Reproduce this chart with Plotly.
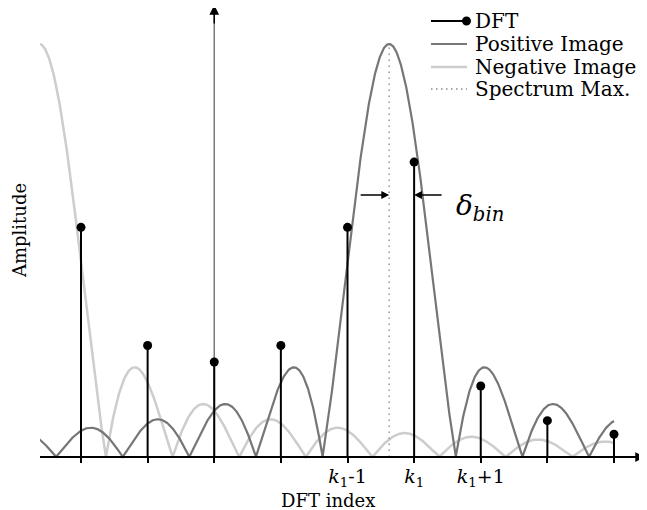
import numpy as np
import plotly.graph_objects as go

# ---- data ----
dft_index = [-2, -1, 0, 1, 2, 3, 4, 5, 6]
dft_amplitude = [0.556, 0.270, 0.230, 0.270, 0.556, 0.714, 0.172, 0.088, 0.055]
k1 = 3
positive_center = 2.625      # spectrum maximum (positive image)
negative_center = -2.625     # mirrored (negative image)
image_peak = 1.0
curve_start, curve_end = -2.625, 6.0
tick_values = [-2, -1, 0, 1, 2, 3, 4, 5, 6]
label_values = [2, 3, 4]
tick_labels = ["<i>k</i><sub>1</sub>-1", "<i>k</i><sub>1</sub>", "<i>k</i><sub>1</sub>+1"]
legend_names = ["DFT", "Positive Image", "Negative Image", "Spectrum Max."]

FONT = "DejaVu Serif"
DARK = "#767676"
LIGHT = "#cdcdcd"
DOT = "#8a8a8a"

# the page body has an 8px margin: figure is placed at (8, 8)
OFF = 8
W, H = 647 - OFF, 510 - OFF
px_per_bin = 66.625
x0_px = 214.25          # reference pixel of index 0
base_px = 457           # reference pixel of amplitude 0
unit_px = 413           # pixels per unit amplitude
xmin = (40 - x0_px) / px_per_bin
xmax = (645 - x0_px) / px_per_bin
ymin = (base_px - 510) / unit_px
ymax = (base_px - OFF) / unit_px


def px(xr):
    return (xr - OFF) / W


def py(yr):
    return 1 - (yr - OFF) / H


xs = np.linspace(curve_start, curve_end, 1200)
pos_img = image_peak * np.abs(np.sinc(xs - positive_center))
neg_img = image_peak * np.abs(np.sinc(xs - negative_center))

fig = go.Figure()

# y axis line (gray)
fig.add_shape(type="line", x0=0, x1=0, y0=0, y1=(base_px - 12) / unit_px,
              line=dict(color="#7a7a7a", width=1.5), layer="below")

fig.add_trace(go.Scatter(x=xs, y=neg_img, mode="lines", name="Negative Image",
                         line=dict(color=LIGHT, width=2.5), showlegend=False))
fig.add_trace(go.Scatter(x=xs, y=pos_img, mode="lines", name="Positive Image",
                         line=dict(color=DARK, width=2.2), showlegend=False))
fig.add_trace(go.Scatter(x=[positive_center, positive_center], y=[0, image_peak],
                         mode="lines", name="Spectrum Max.", showlegend=False,
                         line=dict(color=DOT, width=1.3, dash="1.5px,4.5px")))

stem_x, stem_y = [], []
for k, v in zip(dft_index, dft_amplitude):
    stem_x += [k, k, None]
    stem_y += [0, v, None]
fig.add_trace(go.Scatter(x=stem_x, y=stem_y, mode="lines", showlegend=False,
                         line=dict(color="black", width=2)))
fig.add_trace(go.Scatter(x=dft_index, y=dft_amplitude, mode="markers", showlegend=False,
                         name="DFT", marker=dict(color="black", size=9)))

annotations = []
shapes = []
# axis arrowheads
annotations.append(dict(x=xmax, y=0, ax=xmax - 0.3, ay=0, xref="x", yref="y",
                        axref="x", ayref="y", text="", showarrow=True,
                        arrowhead=2, arrowsize=1.3, arrowwidth=1.5, arrowcolor="black"))
annotations.append(dict(x=0, y=(base_px - 5) / unit_px, ax=0, ay=(base_px - 25) / unit_px,
                        xref="x", yref="y", axref="x", ayref="y", text="", showarrow=True,
                        arrowhead=2, arrowsize=1.3, arrowwidth=1.5, arrowcolor="black"))
# delta_bin arrows
y_arrow = (base_px - 195) / unit_px
annotations.append(dict(x=positive_center, y=y_arrow, ax=positive_center - 30 / px_per_bin,
                        ay=y_arrow, xref="x", yref="y", axref="x", ayref="y", text="",
                        showarrow=True, arrowhead=2, arrowsize=1.2, arrowwidth=1.3,
                        arrowcolor="black"))
annotations.append(dict(x=k1, y=y_arrow, ax=k1 + 29 / px_per_bin, ay=y_arrow,
                        xref="x", yref="y", axref="x", ayref="y", text="",
                        showarrow=True, arrowhead=2, arrowsize=1.2, arrowwidth=1.3,
                        arrowcolor="black"))
annotations.append(dict(x=k1 + 40 / px_per_bin, y=(base_px - 207) / unit_px,
                        xref="x", yref="y", xanchor="left", yanchor="middle",
                        text="<i>δ</i><sub><i>bin</i></sub>", showarrow=False,
                        font=dict(family=FONT, size=28, color="black")))
# axis titles
annotations.append(dict(x=px(328), y=py(500), xref="paper", yref="paper",
                        text="DFT index", showarrow=False, xanchor="center", yanchor="middle",
                        font=dict(family=FONT, size=18, color="black")))
annotations.append(dict(x=px(19), y=py(231), xref="paper", yref="paper",
                        text="Amplitude", showarrow=False, textangle=-90,
                        xanchor="center", yanchor="middle",
                        font=dict(family=FONT, size=18, color="black")))

# legend (drawn as a key box in the top right corner)
row_y = [21, 44, 67, 89]
legend_styles = [dict(color="black", width=2),
                 dict(color=DARK, width=2.2),
                 dict(color=LIGHT, width=2.5),
                 dict(color=DOT, width=1.5, dash="1.5px,3.5px")]
for name, yr, st in zip(legend_names, row_y, legend_styles):
    shapes.append(dict(type="line", xref="paper", yref="paper",
                       x0=px(431), x1=px(467), y0=py(yr), y1=py(yr), line=st))
    annotations.append(dict(x=px(473), y=py(yr), xref="paper", yref="paper",
                            text=name, showarrow=False, xanchor="left", yanchor="middle",
                            font=dict(family=FONT, size=20, color="black")))
shapes.append(dict(type="circle", xref="paper", yref="paper",
                   x0=px(462), x1=px(471), y0=py(row_y[0] - 4.5), y1=py(row_y[0] + 4.5),
                   fillcolor="black", line=dict(width=0)))

fig.update_layout(
    width=W, height=H,
    margin=dict(l=0, r=0, t=0, b=0),
    plot_bgcolor="white", paper_bgcolor="white",
    showlegend=False,
    annotations=annotations,
    shapes=fig.layout.shapes + tuple(shapes),
    xaxis=dict(domain=[px(40), px(645)], range=[xmin, xmax],
               anchor="free", position=py(base_px),
               showline=True, linecolor="black", linewidth=1.5,
               ticks="outside", ticklen=5, tickwidth=1.5, tickcolor="black",
               tickmode="array", tickvals=label_values, ticktext=tick_labels,
               ticklabelstandoff=-3,
               minor=dict(tickmode="array", tickvals=tick_values, ticks="outside",
                          ticklen=5, tickwidth=1.5, tickcolor="black", showgrid=False),
               tickfont=dict(family=FONT, size=19, color="black"),
               showgrid=False, zeroline=False),
    yaxis=dict(domain=[0, 1], range=[ymin, ymax], visible=False),
)

fig.write_html("out.html")
